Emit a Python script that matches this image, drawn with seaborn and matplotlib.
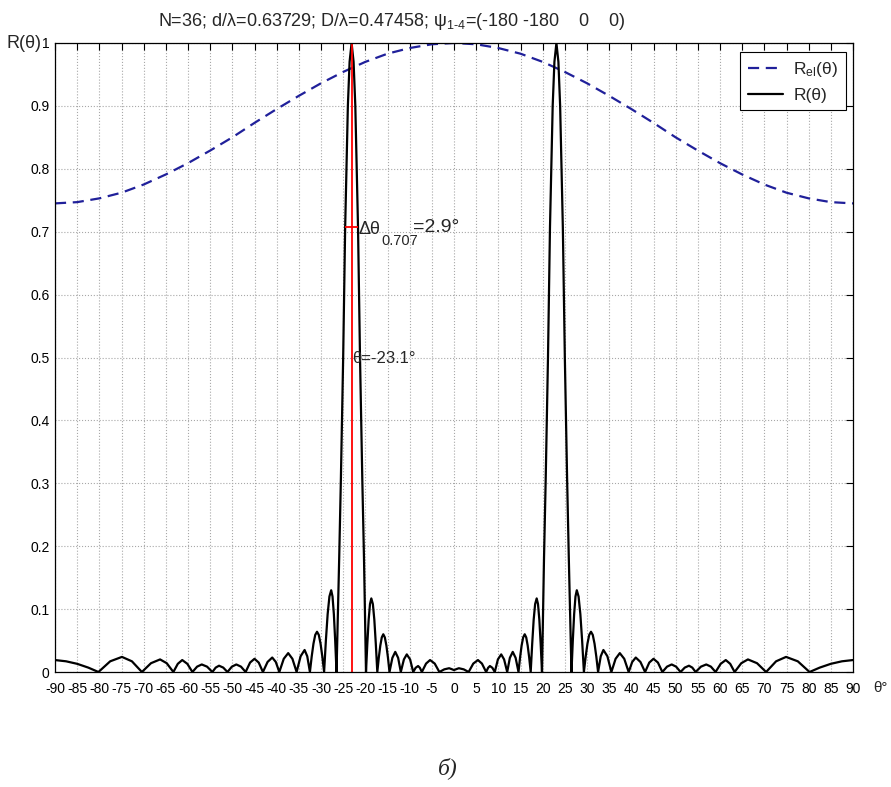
import matplotlib
matplotlib.use("Agg")
import matplotlib.pyplot as plt
import seaborn as sns
import pandas as pd

# element pattern R_el(theta), read at 5 deg steps
theta_el = [-90, -85, -80, -75, -70, -65, -60, -55, -50, -45, -40, -35, -30, -25, -20, -15, -10, -5,
            0, 5, 10, 15, 20, 25, 30, 35, 40, 45, 50, 55, 60, 65, 70, 75, 80, 85, 90]
r_el = [0.745, 0.747, 0.753, 0.762, 0.775, 0.791, 0.809, 0.829, 0.850, 0.873, 0.895, 0.916, 0.936, 0.954,
        0.970, 0.983, 0.992, 0.998, 1.000, 0.998, 0.992, 0.983, 0.970, 0.954, 0.936, 0.916, 0.895, 0.873,
        0.850, 0.829, 0.809, 0.791, 0.775, 0.762, 0.753, 0.747, 0.745]

# array pattern R(theta)
theta_r = [
    -90.0, -87.5, -85.0, -82.5, -80.2, -77.55, -74.9, -72.65, -70.4, -68.35, -66.3, -64.8, -63.3,
    -62.3, -61.3, -60.15, -59.0, -57.95, -56.9, -55.7, -54.5, -53.75, -53.0, -52.05, -51.1,
    -50.1, -49.1, -48.05, -47.0, -46.0, -45.0, -44.05, -43.1, -42.05, -41.0, -40.2, -39.4,
    -38.4, -37.4, -36.45, -35.5, -34.6, -33.7, -33.1, -32.5,
    -32.1, -31.7, -31.3, -30.9, -30.5, -30.1, -29.7, -29.3,
    -28.9, -28.5, -28.1, -27.7, -27.4, -27.1, -26.8, -26.5,
    -25.9, -25.52, -25.0, -24.55, -23.94, -23.55, -23.1, -22.65, -22.26, -21.65, -21.2, -20.68, -20.3, -19.85,
    -19.55, -19.25, -18.95, -18.65, -18.3, -17.97, -17.64, -17.3,
    -16.96, -16.62, -16.29, -15.95, -15.6, -15.25, -14.9, -14.55,
    -13.9, -13.25, -12.6, -12.0, -11.3, -10.65, -9.9, -9.2,
    -8.65, -8.1, -7.7, -7.25, -6.3, -5.4, -4.35, -3.3, -2.2, -1.1, -0.5,
    0.0,
    0.5, 1.1, 2.2, 3.3, 4.35, 5.4, 6.3, 7.25, 7.7, 8.1, 8.65, 9.2,
    9.9, 10.65, 11.3, 12.0, 12.6, 13.25, 13.9, 14.55,
    14.9, 15.25, 15.6, 15.95, 16.29, 16.62, 16.96, 17.3,
    17.64, 17.97, 18.3, 18.65, 18.95, 19.25, 19.55, 19.85,
    20.3, 20.68, 21.2, 21.65, 22.26, 22.65, 23.1, 23.55, 23.94, 24.55, 25.0, 25.52, 25.9, 26.5,
    26.8, 27.1, 27.4, 27.7, 28.1, 28.5, 28.9, 29.3,
    29.7, 30.1, 30.5, 30.9, 31.3, 31.7, 32.1, 32.5,
    33.1, 33.7, 34.6, 35.5, 36.45, 37.4, 38.4, 39.4,
    40.2, 41.0, 42.05, 43.1, 44.05, 45.0, 46.0, 47.0,
    48.05, 49.1, 50.1, 51.1, 52.05, 53.0, 53.75, 54.5,
    55.7, 56.9, 57.95, 59.0, 60.15, 61.3, 62.3, 63.3,
    64.8, 66.3, 68.35, 70.4, 72.65, 74.9, 77.55, 80.2, 82.5, 85.0, 87.5, 90.0,
]
r_pattern = [
    0.019, 0.017, 0.013, 0.007, 0.0, 0.017, 0.024, 0.017, 0.0, 0.014, 0.020, 0.014, 0.0,
    0.013, 0.019, 0.013, 0.0, 0.0085, 0.012, 0.0085, 0.0, 0.007, 0.010, 0.007, 0.0,
    0.0085, 0.012, 0.0085, 0.0, 0.015, 0.021, 0.015, 0.0, 0.016, 0.023, 0.016, 0.0,
    0.021, 0.030, 0.021, 0.0, 0.025, 0.035, 0.025, 0.0,
    0.0245, 0.045, 0.059, 0.064, 0.059, 0.045, 0.0245, 0.0,
    0.050, 0.092, 0.120, 0.130, 0.120, 0.092, 0.050, 0.0,
    0.18, 0.305, 0.5, 0.707, 0.9, 0.97, 1.0, 0.97, 0.9, 0.707, 0.5, 0.305, 0.18, 0.0,
    0.045, 0.083, 0.108, 0.117, 0.108, 0.083, 0.045, 0.0,
    0.023, 0.042, 0.055, 0.060, 0.055, 0.042, 0.023, 0.0,
    0.0225, 0.032, 0.0225, 0.0, 0.020, 0.028, 0.020, 0.0,
    0.0067, 0.0095, 0.0067, 0.0, 0.0134, 0.019, 0.0134, 0.0, 0.0042, 0.006, 0.0045,
    0.003,
    0.0045, 0.006, 0.0042, 0.0, 0.0134, 0.019, 0.0134, 0.0, 0.0067, 0.0095, 0.0067, 0.0,
    0.020, 0.028, 0.020, 0.0, 0.0225, 0.032, 0.0225, 0.0,
    0.023, 0.042, 0.055, 0.060, 0.055, 0.042, 0.023, 0.0,
    0.045, 0.083, 0.108, 0.117, 0.108, 0.083, 0.045, 0.0,
    0.18, 0.305, 0.5, 0.707, 0.9, 0.97, 1.0, 0.97, 0.9, 0.707, 0.5, 0.305, 0.18, 0.0,
    0.050, 0.092, 0.120, 0.130, 0.120, 0.092, 0.050, 0.0,
    0.0245, 0.045, 0.059, 0.064, 0.059, 0.045, 0.0245, 0.0,
    0.025, 0.035, 0.025, 0.0, 0.021, 0.030, 0.021, 0.0,
    0.016, 0.023, 0.016, 0.0, 0.015, 0.021, 0.015, 0.0,
    0.0085, 0.012, 0.0085, 0.0, 0.007, 0.010, 0.007, 0.0,
    0.0085, 0.012, 0.0085, 0.0, 0.013, 0.019, 0.013, 0.0,
    0.014, 0.020, 0.014, 0.0, 0.017, 0.024, 0.017, 0.0, 0.007, 0.013, 0.017, 0.019,
]

# beam marker (red) and half-power width
beam_angle = -23.1
hp_left, hp_right = -24.55, -21.65
hp_level = 0.707

x_ticks = list(range(-90, 95, 5))
x_labels = [str(v) for v in x_ticks]
y_ticks = [0, 0.1, 0.2, 0.3, 0.4, 0.5, 0.6, 0.7, 0.8, 0.9, 1.0]
y_labels = ["0", "0.1", "0.2", "0.3", "0.4", "0.5", "0.6", "0.7", "0.8", "0.9", "1"]

df_el = pd.DataFrame({"theta": theta_el, "R": r_el})
df_r = pd.DataFrame({"theta": theta_r, "R": r_pattern})

sns.set_style("white")
plt.rcParams["font.family"] = ["Liberation Sans", "DejaVu Sans"]
plt.rcParams["mathtext.fontset"] = "custom"
plt.rcParams["mathtext.rm"] = "Liberation Sans"
plt.rcParams["mathtext.it"] = "Liberation Sans:italic"

fig, ax = plt.subplots(figsize=(8.91, 7.87), dpi=100)
fig.subplots_adjust(left=55 / 891, right=853 / 891, top=1 - 43 / 787, bottom=1 - 672 / 787)

sns.lineplot(data=df_el, x="theta", y="R", ax=ax, color="#20209a", linewidth=1.6,
             linestyle=(0, (5, 3)), estimator=None, sort=False, label="R$_{\\mathregular{el}}$(θ)")
sns.lineplot(data=df_r, x="theta", y="R", ax=ax, color="black", linewidth=1.6,
             estimator=None, sort=False, label="R(θ)")

ax.vlines(beam_angle, 0, 1, color="red", linewidth=1.3)
ax.hlines(hp_level, hp_left, hp_right, color="red", linewidth=1.3)

ax.set_xlim(-90, 90)
ax.set_ylim(0, 1)
ax.set_xticks(x_ticks)
ax.set_xticklabels(x_labels, fontsize=10)
ax.set_yticks(y_ticks)
ax.set_yticklabels(y_labels, fontsize=10)
ax.tick_params(direction="in", length=5, width=0.8, top=True, right=True, pad=4, colors="black")
ax.tick_params(axis="x", pad=7)
ax.set_xlabel("")
ax.set_ylabel("")
ax.grid(True, linestyle=":", color="#a8a8a8", linewidth=0.8)
ax.set_axisbelow(True)
for s in ax.spines.values():
    s.set_color("black")
    s.set_linewidth(0.9)

ax.legend(loc="upper right", bbox_to_anchor=(1 - 7 / 798, 1 - 9 / 629), borderaxespad=0,
          fontsize=12.5, frameon=True, fancybox=False, edgecolor="black", framealpha=1,
          handlelength=2.0, handletextpad=0.6, labelspacing=0.5, borderpad=0.45)
ax.get_legend().get_frame().set_linewidth(0.8)

# annotations
ax.text(-21.43, 0.703, "Δθ", fontsize=13, va="center", ha="left")
ax.text(-16.47, 0.686, "0.707", fontsize=10.5, va="center", ha="left")
ax.text(-9.3, 0.706, "=2.9°", fontsize=14, va="center", ha="left")
ax.text(-23.0, 0.498, "θ=-23.1°", fontsize=12, va="center", ha="left")

fig.text(392 / 891, 1 - 21 / 787,
         "N=36; d/λ=0.63729; D/λ=0.47458; ψ$_{\\text{1-4}}$=(-180 -180    0    0)",
         fontsize=13, ha="center", va="center")
fig.text(42 / 891, 1 - 43 / 787, "R(θ)", fontsize=13, ha="right", va="center")
fig.text(880 / 891, 1 - 688 / 787, "θ°", fontsize=11, ha="center", va="center")
fig.text(448 / 891, 1 - 768 / 787, "б)", fontsize=17, ha="center", va="center",
         family=["Liberation Serif", "DejaVu Serif"], style="italic")

fig.savefig("out.png", dpi=100)
